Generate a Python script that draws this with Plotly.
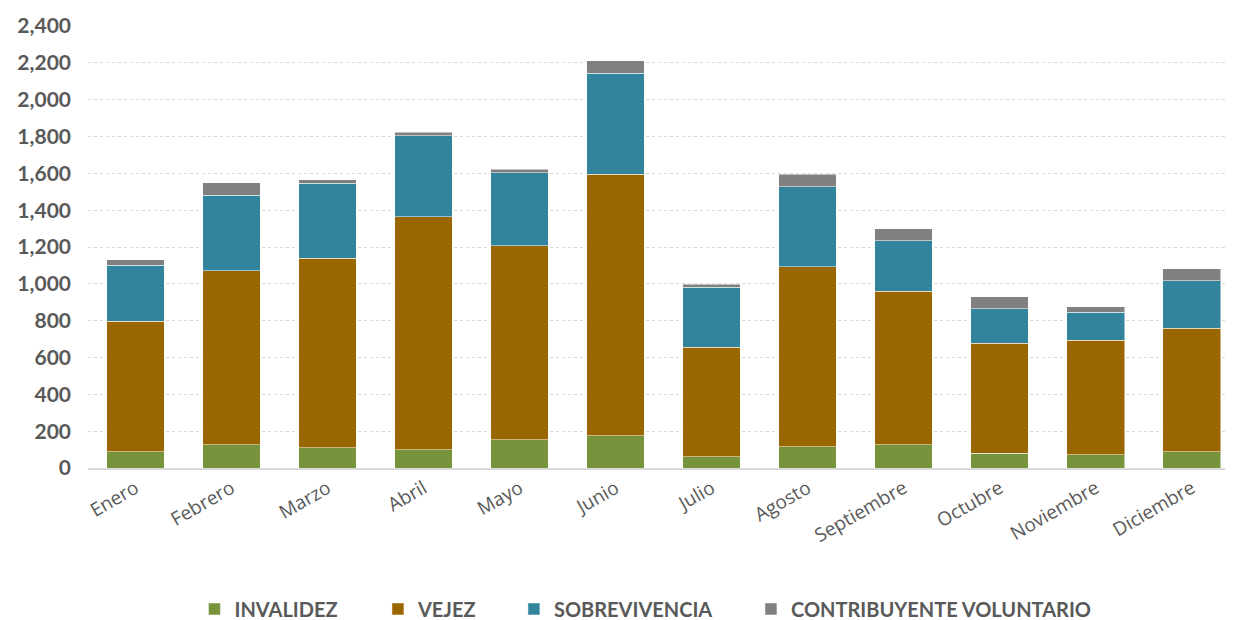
import plotly.graph_objects as go

meses = ["Enero", "Febrero", "Marzo", "Abril", "Mayo", "Junio", "Julio",
         "Agosto", "Septiembre", "Octubre", "Noviembre", "Diciembre"]
invalidez = [87, 127, 109, 98, 154, 174, 60, 116, 127, 80, 71, 87]
vejez = [709, 945, 1030, 1267, 1052, 1421, 597, 976, 833, 598, 624, 673]
sobrevivencia = [305, 409, 407, 440, 398, 548, 324, 436, 275, 187, 150, 256]
contribuyente = [29, 67, 20, 18, 18, 67, 18, 67, 65, 66, 30, 67]
y_ticks = list(range(0, 2401, 200))

W, H = 1225, 612

series = [
    ("INVALIDEZ", invalidez, "#77933C", "legend", 0.1522),
    ("VEJEZ", vejez, "#996600", "legend2", 0.302),
    ("SOBREVIVENCIA", sobrevivencia, "#31849B", "legend3", 0.413),
    ("CONTRIBUYENTE VOLUNTARIO", contribuyente, "#808080", "legend4", 0.6065),
]

fig = go.Figure()
legend_layouts = {}
for name, vals, color, lg, lx in series:
    fig.add_trace(go.Bar(
        x=meses, y=vals, name=name, legend=lg, showlegend=True,
        marker=dict(color=color, line=dict(color="rgba(255,255,255,0.5)", width=1)),
    ))
    legend_layouts[lg] = dict(
        xref="container", yref="container", x=lx, xanchor="left",
        y=0.018, yanchor="middle", orientation="h",
        font=dict(size=20, color="#595959", weight="bold",
                  family="Lato, 'Open Sans', sans-serif"),
        itemwidth=30, bgcolor="rgba(0,0,0,0)", visible=True,
    )

fig.update_layout(
    barmode="stack",
    bargap=0.4,
    showlegend=True,
    width=W, height=H,
    margin=dict(l=80, r=0, t=18, b=152, autoexpand=False),
    plot_bgcolor="white", paper_bgcolor="white",
    font=dict(family="Lato, 'Open Sans', sans-serif", color="#595959"),
    xaxis=dict(
        range=[-0.4945, 11.43],
        tickangle=-30,
        tickfont=dict(size=19, color="#595959", family="'Open Sans', sans-serif"),
        showline=True, linecolor="#D9D9D9", linewidth=2,
        ticks="",
    ),
    yaxis=dict(
        range=[0, 2400],
        tickvals=y_ticks,
        tickformat=",",
        tickfont=dict(size=21, color="#595959", weight="bold"),
        showgrid=True, gridcolor="#D9D9D9", griddash="dot", gridwidth=1,
        zeroline=False, ticklabelstandoff=16,
    ),
    **legend_layouts,
)
fig.write_html("out.html")
